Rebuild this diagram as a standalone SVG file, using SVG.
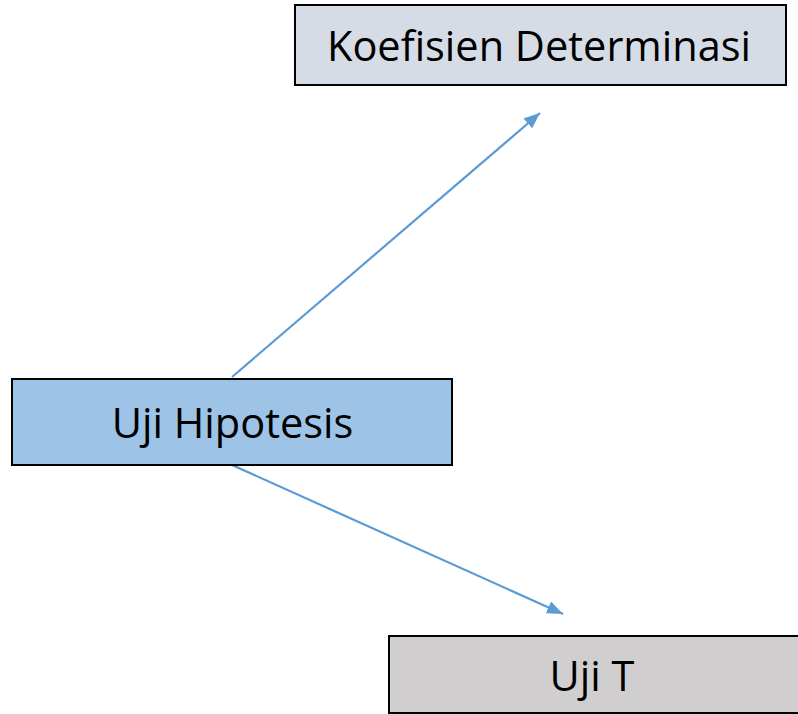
<svg xmlns="http://www.w3.org/2000/svg" width="798" height="714" viewBox="0 0 798 714">
  <style>
    .box { stroke: #000000; stroke-width: 2; }
    .lbl { font-family: "Open Sans", "Liberation Sans", sans-serif; font-size: 41.5px; fill: #000000; text-anchor: middle; }
    .conn { stroke: #5B9BD5; stroke-width: 2.2; fill: none; }
  </style>
  <defs>
    <marker id="arrow" markerUnits="userSpaceOnUse" markerWidth="18" markerHeight="14" refX="16" refY="6.5" orient="auto">
      <path d="M0,0 L16,6.5 L0,13 z" fill="#5B9BD5"/>
    </marker>
  </defs>
  <rect width="798" height="714" fill="#FFFFFF"/>
  <g id="connectors">
    <line class="conn" x1="232" y1="377" x2="540" y2="113" marker-end="url(#arrow)"/>
    <line class="conn" x1="232" y1="465" x2="563" y2="614" marker-end="url(#arrow)"/>
  </g>
  <g id="node-koefisien">
    <rect class="box" x="295" y="5" width="491" height="80" fill="#D6DCE5"/>
    <text class="lbl" x="539" y="61">Koefisien Determinasi</text>
  </g>
  <g id="node-uji-hipotesis">
    <rect class="box" x="12" y="379" width="440" height="86" fill="#9DC3E6"/>
    <text class="lbl" x="232.5" y="438">Uji Hipotesis</text>
  </g>
  <g id="node-uji-t">
    <rect class="box" x="389" y="636" width="420" height="77" fill="#D0CECE"/>
    <text class="lbl" x="592" y="691">Uji T</text>
  </g>
</svg>
